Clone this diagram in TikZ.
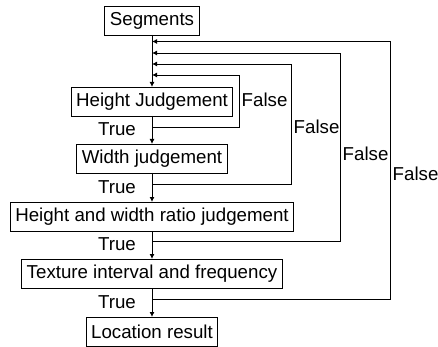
\documentclass[tikz,border=0pt]{standalone}
\usepackage{fontspec}
\setmainfont{Liberation Sans}
\usetikzlibrary{arrows.meta, calc, positioning}

\begin{document}
\begin{tikzpicture}[x=1pt, y=1pt,
    box/.style={draw, line width=0.9pt, outer sep=0pt, minimum height=29pt, inner xsep=5pt, inner ysep=2pt, font=\fontsize{18.7}{21}\selectfont},
    lbl/.style={font=\fontsize{18.7}{21}\selectfont, inner sep=1pt},
    flow/.style={line width=0.9pt, -{Latex[length=5pt, width=5pt]}}
]
    \useasboundingbox (0,0) rectangle (438,-347);

    % Main chain
    \node[box] (seg) at (152,-20.5) {Segments};
    \node[box, below=52pt of seg] (hj) {Height Judgement};
    \node[box, below=28pt of hj] (wj) {Width judgement};
    \node[box, below=29pt of wj] (rj) {Height and width ratio judgement};
    \node[box, below=28pt of rj] (tf) {Texture interval and frequency};
    \node[box, below=29pt of tf] (lr) {Location result};

    % Return points on the main line
    \coordinate (r1) at ($(hj.north)+(0,12)$);
    \coordinate (r2) at ($(hj.north)+(0,23)$);
    \coordinate (r3) at ($(hj.north)+(0,34)$);
    \coordinate (r4) at ($(hj.north)+(0,45.5)$);

    % Exit points below each test
    \coordinate (e1) at ($(hj.south)+(0,-11)$);
    \coordinate (e2) at ($(wj.south)+(0,-11)$);
    \coordinate (e3) at ($(rj.south)+(0,-10)$);
    \coordinate (e4) at ($(tf.south)+(0,-11)$);

    \draw[flow] (seg) -- (hj);
    \draw[flow] (hj) -- (wj);
    \draw[flow] (wj) -- (rj);
    \draw[flow] (rj) -- (tf);
    \draw[flow] (tf) -- (lr);

    % False loops
    \draw[flow] (e1) -- ++(87,0) |- (r1);
    \draw[flow] (e2) -- ++(139,0) |- (r2);
    \draw[flow] (e3) -- ++(188,0) |- (r3);
    \draw[flow] (e4) -- ++(238,0) |- (r4);

    % True labels
    \node[lbl, anchor=east] (t1) at ($(e1)+(-15,-2)$) {True};
    \node[lbl, anchor=east] (t2) at ($(e2)+(-15,-3)$) {True};
    \node[lbl, anchor=east] (t3) at ($(e3)+(-15,-3)$) {True};
    \node[lbl, anchor=east] (t4) at ($(e4)+(-15,-3)$) {True};

    % False labels
    \node[lbl, anchor=west] (f1) at (240.5,-100) {False};
    \node[lbl, anchor=west] (f2) at (292.5,-127) {False};
    \node[lbl, anchor=west] (f3) at (341.5,-154) {False};
    \node[lbl, anchor=west] (f4) at (391.5,-174) {False};

\end{tikzpicture}
\end{document}
